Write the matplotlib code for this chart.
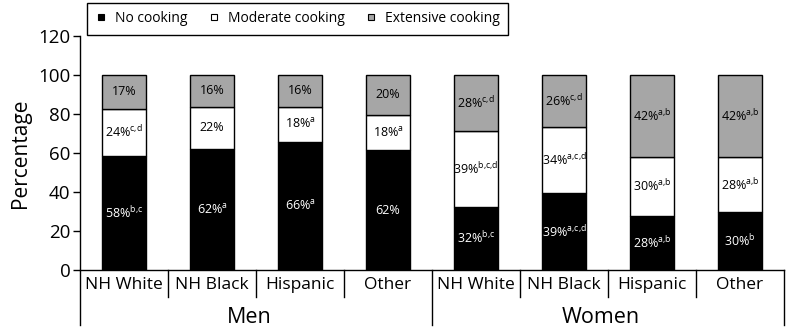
import numpy as np
import matplotlib
matplotlib.use("Agg")
import matplotlib.pyplot as plt
from matplotlib.lines import Line2D
from matplotlib.transforms import blended_transform_factory

plt.rcParams["font.family"] = ["Open Sans", "DejaVu Sans"]
plt.rcParams["mathtext.fontset"] = "custom"
plt.rcParams["mathtext.rm"] = "Open Sans"

groups = ["Men", "Women"]
categories = ["NH White", "NH Black", "Hispanic", "Other"]

# segment heights (men first, then women)
no_cooking = [58.6, 62.0, 65.8, 61.5, 32.5, 39.3, 27.9, 29.6]
moderate = [24.0, 21.7, 17.9, 18.0, 38.8, 34.2, 30.2, 28.2]
extensive = [17.4, 16.3, 16.3, 20.5, 28.7, 26.5, 41.9, 42.2]

# printed labels and their significance superscripts
no_labels = ["58%", "62%", "66%", "62%", "32%", "39%", "28%", "30%"]
no_sup = ["b,c", "a", "a", "", "b,c", "a,c,d", "a,b", "b"]
mod_labels = ["24%", "22%", "18%", "18%", "39%", "34%", "30%", "28%"]
mod_sup = ["c,d", "", "a", "a", "b,c,d", "a,c,d", "a,b", "a,b"]
ext_labels = ["17%", "16%", "16%", "20%", "28%", "26%", "42%", "42%"]
ext_sup = ["", "", "", "", "c,d", "c,d", "a,b", "a,b"]

series = [
    ("No cooking", no_cooking, no_labels, no_sup, "black", "white"),
    ("Moderate cooking", moderate, mod_labels, mod_sup, "white", "black"),
    ("Extensive cooking", extensive, ext_labels, ext_sup, "#a6a6a6", "black"),
]

W, H = 787, 335
fig = plt.figure(figsize=(W / 100, H / 100), dpi=100)
ax = fig.add_axes([80 / W, (H - 270) / H, 704 / W, 234 / H])

n = len(groups) * len(categories)
x = np.arange(n) + 0.5
bottom = np.zeros(n)
for name, vals, labs, sups, color, tcolor in series:
    vals = np.array(vals)
    ax.bar(x, vals, 0.5, bottom=bottom, color=color, edgecolor="black",
           linewidth=1.0, label=name)
    for xi, b, v, lab, sup in zip(x, bottom, vals, labs, sups):
        # {,} keeps mathtext from padding the commas
        s = lab + (f"$^{{\\mathregular{{{sup.replace(',', '{,}')}}}}}$" if sup else "")
        ax.text(xi, b + v / 2, s, ha="center", va="center",
                fontsize=9, color=tcolor)
    bottom += vals

ax.set_xlim(0, n)
ax.set_ylim(0, 120)
ax.set_yticks(np.arange(0, 121, 20))
ax.tick_params(axis="y", labelsize=13.5, length=5, width=1, pad=2)
ax.set_xticks([])
for s in ["top", "right"]:
    ax.spines[s].set_visible(False)
ax.spines["left"].set_visible(False)
ax.spines["bottom"].set_linewidth(1)
ax.set_ylabel("Percentage", fontsize=15, labelpad=5)

# left axis line runs down through the category area
ax.add_line(Line2D([0, 0], [-0.235, 1.0], transform=ax.transAxes,
                   color="black", lw=1, clip_on=False))

tr = blended_transform_factory(ax.transData, ax.transAxes)
for i in range(1, n + 1):
    low = -0.235 if i % len(categories) == 0 else -0.115
    ax.add_line(Line2D([i, i], [0, low], transform=tr, color="black",
                       lw=1, clip_on=False))
for i, xi in enumerate(x):
    ax.text(xi, -0.064, categories[i % len(categories)], transform=tr,
            ha="center", va="center", fontsize=12.5)
for g, name in enumerate(groups):
    ax.text(len(categories) * (g + 0.5) - 0.08, -0.205, name, transform=tr,
            ha="center", va="center", fontsize=15.5)

handles = [Line2D([], [], marker="s", ls="none", markersize=5,
                  markerfacecolor=c, markeredgecolor="black", markeredgewidth=0.8)
           for _, _, _, _, c, _ in series]
leg = fig.legend(handles, [s[0] for s in series], loc="upper left",
                 bbox_to_anchor=(87 / W, 1 - 3 / H), ncol=3, fontsize=10,
                 frameon=True, fancybox=False, edgecolor="black", framealpha=1,
                 borderaxespad=0, handlelength=0.8, handletextpad=0.6,
                 columnspacing=1.5, borderpad=0.6)
leg.get_frame().set_linewidth(1)

fig.savefig("out.png", dpi=100)
